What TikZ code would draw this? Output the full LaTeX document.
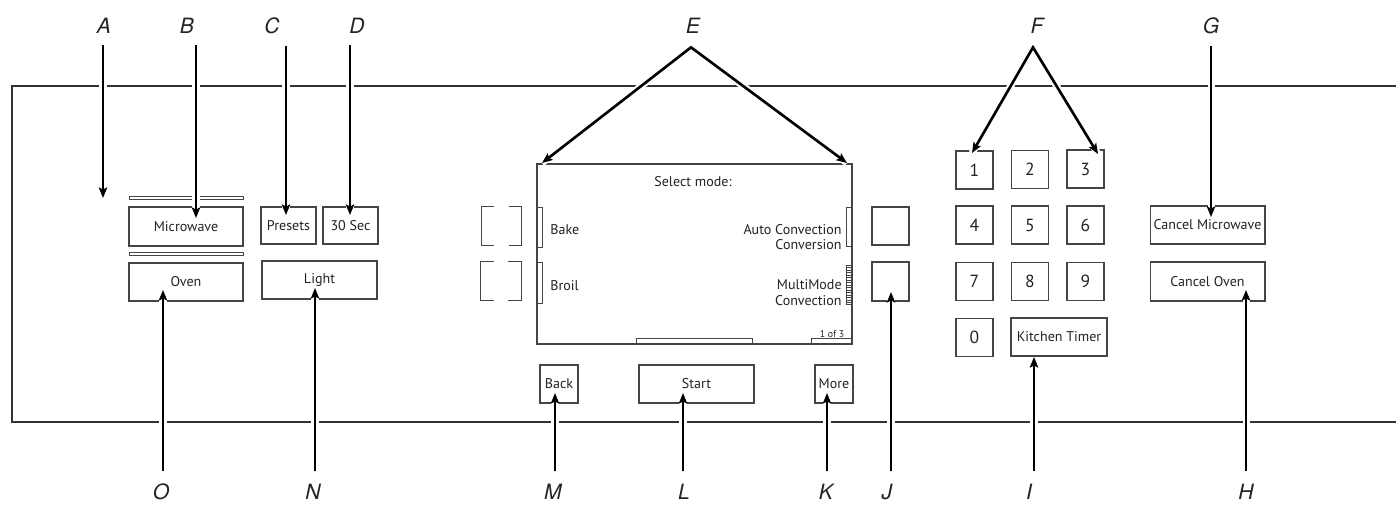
\documentclass[tikz,border=0pt]{standalone}
\usepackage{fontspec}
\setmainfont{PT Sans}
\newfontfamily\callfont{TeX Gyre Heros}
\usepackage{tikz}
\usetikzlibrary{arrows.meta, calc}
\definecolor{edge}{RGB}{68,68,68}
\definecolor{ink}{RGB}{35,35,35}
\tikzset{callhead/.tip={Stealth[length=6pt,width=4.8pt,inset=1.2pt]}}

\begin{document}
\begin{tikzpicture}[
  x=0.02cm, y=-0.02cm,
  btn/.style 2 args={rectangle, draw=edge, line width=0.6pt, inner sep=0pt, minimum width=#1*0.2mm, minimum height=#2*0.2mm, font=\fontsize{8}{9}\selectfont, text=ink},
  ghost/.style 2 args={rectangle, inner sep=0pt, minimum width=#1*0.2mm, minimum height=#2*0.2mm},
  letter/.style={anchor=base, inner sep=0pt, font=\callfont\itshape\fontsize{12}{14}\selectfont, text=ink},
  scrtext/.style={inner sep=0pt, font=\fontsize{8}{9}\selectfont, text=ink},
  tab/.style={draw=edge, line width=0.5pt},
  panel/.style={draw=black!80, line width=1.2pt},
  callout/.style={line width=1.5pt, -callhead, preaction={draw=white, line width=4pt, arrows=-}},
  vcall/.style={callout, shorten <=2.4mm},
  twin/.style={callout, callhead-callhead}
]
\useasboundingbox (0,0) rectangle (1396,504);

\draw[panel] (1396,86) -| (12,422) -- (1396,422);

% left cluster
\draw[tab] (129,196.5) rectangle (243,199.5);
\draw[tab] (129,252.5) rectangle (243,255.5);
\node[btn={114}{39}] (microwave) at (186,226.5) {Microwave};
\node[btn={114}{38}] (oven) at (186,282) {Oven};
\node[btn={55}{37}] (presets) at (288.5,225.5) {Presets};
\node[btn={55}{37}] (thirty) at (350.5,225.5) {30 Sec};
\node[btn={115}{38}] (light) at (319.5,280) {Light};

% screen
\node[btn={315}{180}, line width=0.8pt] (screen) at (694.5,254) {};
\node[scrtext] (selmode) at (693,182) {Select mode:};
\node[scrtext, anchor=west] (bake) at (550,230) {Bake};
\node[scrtext, anchor=west] (broil) at (550,286) {Broil};
\node[scrtext, anchor=east, align=right] (autoconv) at (842,237) {Auto Convection\\Conversion};
\node[scrtext, anchor=east, align=right] (multimode) at (842,293) {MultiMode\\Convection};
\node[scrtext, anchor=base, font=\fontsize{5.6}{6}\selectfont] (page) at (832,337) {1 of 3};
\draw[tab] (537,207) rectangle (542,247);
\draw[tab] (537,262) rectangle (542,303);
\draw[tab] (846,207) rectangle (852,246);
\draw[tab] (846,265) rectangle (852,304);
\foreach \yy in {267.5,270,...,303} \draw[edge, line width=0.3pt] (846,\yy) -- (852,\yy);
\draw[tab] (636,338) rectangle (752,344);
\draw[tab] (811,338) rectangle (851,344);

% soft keys
\node[ghost={40}{38}] (soft1) at (501.5,226) {};
\node[ghost={40}{38}] (soft2) at (501,281) {};
\foreach \s in {soft1,soft2} {
  \draw[edge, line width=0.6pt] (\s.north west) ++(13,0) -- (\s.north west) -- (\s.south west) -- ++(13,0);
  \draw[edge, line width=0.6pt] (\s.north east) ++(-13,0) -- (\s.north east) -- (\s.south east) -- ++(-13,0);
}
\node[btn={37}{38}] (soft3) at (890.5,226) {};
\node[btn={37}{39}] (soft4) at (890.5,281.5) {};
\node[btn={38}{38}] (back) at (559,384) {Back};
\node[btn={115}{38}] (start) at (696.5,384) {Start};
\node[btn={38}{38}] (more) at (834,384) {More};

% keypad
\foreach \n/\cx/\cy in {1/974.5/170, 2/1030/169.5, 3/1085.5/169, 4/974.5/225, 5/1030/225, 6/1085.5/225, 7/974.5/281.5, 8/1030/281.5, 9/1085.5/281.5, 0/974.5/337.5}
  \node[btn={37}{38}, font=\fontsize{10}{11}\selectfont] (key\n) at (\cx,\cy) {\n};
\node[btn={96}{38}] (timer) at (1059,337) {Kitchen Timer};
\node[btn={115}{38}] (cancelmw) at (1207.5,225) {Cancel Microwave};
\node[btn={115}{39}] (cancelov) at (1207.5,281.5) {Cancel Oven};

% callout letters
\foreach \l/\lx in {A/104, B/187, C/272, D/357, E/693, F/1037, G/1211}
  \node[letter] (lbl\l) at (\lx,33) {\l};
\foreach \l/\lx in {O/161, N/313, M/553, L/684, K/826, J/887, I/1029, H/1246}
  \node[letter] (lbl\l) at (\lx,499) {\l};

\coordinate (tipA) at (103,198);
\coordinate (tipB) at (196,218);
\coordinate (tipC) at (286,215);
\coordinate (tipD) at (350,215);
\coordinate (tipG) at (1211,217);
\coordinate (tipO) at (163,290);
\coordinate (tipN) at (315,288);
\coordinate (tipM) at (555,393);
\coordinate (tipL) at (683,393);
\coordinate (tipK) at (827,393);
\coordinate (tipJ) at (891,292);
\coordinate (tipI) at (1034,357);
\coordinate (tipH) at (1246,290);
\coordinate (apexE) at ([xshift=-0.4mm, yshift=-2.8mm]lblE.south);
\coordinate (apexF) at ([xshift=-0.8mm, yshift=-2.8mm]lblF.south);

\foreach \l in {A,B,C,D,G}
  \draw[vcall] (lbl\l.south -| tip\l) -- (tip\l);
\foreach \l in {O,N,M,L,K,J,I,H}
  \draw[vcall] (lbl\l.north -| tip\l) -- (tip\l);
\draw[twin] (542,163) -- (apexE) -- (847,163);
\draw[twin] (972,153) -- (apexF) -- (1098,154);
\end{tikzpicture}
\end{document}
